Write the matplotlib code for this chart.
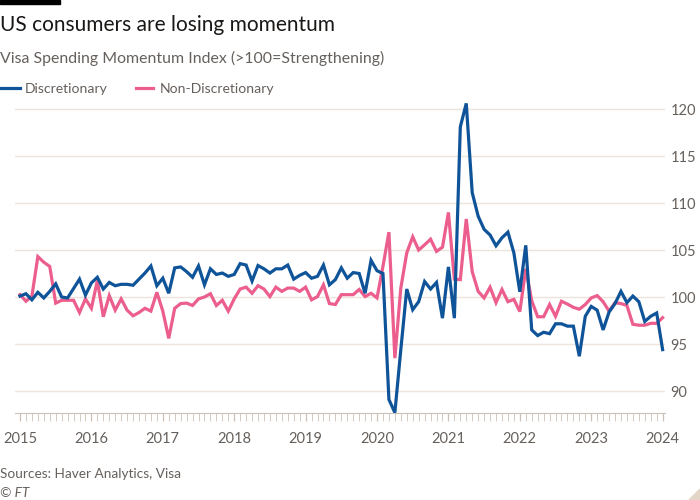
import matplotlib
matplotlib.use("Agg")
import matplotlib.pyplot as plt
from matplotlib.lines import Line2D
from matplotlib.patches import Polygon, Rectangle
import numpy as np

plt.rcParams['font.family'] = ['Lato', 'DejaVu Sans']

# Monthly data, Jan 2015 - Jan 2024
discretionary = [100.1, 100.35, 99.7, 100.5, 99.9, 100.6, 101.4, 100.0, 99.9, 100.9, 101.9, 100.2,
                 101.5, 102.1, 100.85, 101.55, 101.2, 101.35, 101.35, 101.25, 101.9, 102.55, 103.3, 101.2,
                 102.0, 100.4, 103.1, 103.2, 102.7, 102.1, 103.3, 101.3, 103.0, 102.4, 102.55, 102.2,
                 102.4, 103.55, 103.4, 101.7, 103.35, 103.0, 102.55, 103.0, 103.0, 103.4, 101.9, 102.3,
                 102.6, 102.0, 102.2, 103.4, 101.3, 101.85, 103.1, 102.0, 102.6, 102.5, 100.4, 103.9,
                 102.8, 102.5, 89.1, 87.7, 94.4, 100.85, 98.65, 99.5, 101.65, 100.85, 101.55, 97.75,
                 103.2, 97.75, 118.1, 120.6, 111.1, 108.6, 107.2, 106.6, 105.45, 106.3, 106.9, 104.7,
                 100.55, 105.5, 96.5, 95.9, 96.25, 96.1, 97.15, 97.15, 96.9, 96.9, 93.7, 97.95,
                 99.0, 98.6, 96.5, 98.4, 99.3, 100.6, 99.4, 100.1, 99.5, 97.4, 97.95, 98.3,
                 94.4]
non_discretionary = [100.25, 99.55, 100.1, 104.3, 103.7, 103.25, 99.35, 99.65, 99.65, 99.65, 98.35, 99.8,
                     98.8, 101.75, 97.9, 100.15, 98.6, 99.8, 98.6, 98.0, 98.35, 98.8, 98.5, 100.5,
                     98.5, 95.6, 98.8, 99.3, 99.35, 99.1, 99.8, 100.0, 100.35, 99.1, 99.65, 98.5,
                     99.8, 100.85, 101.05, 100.4, 101.2, 100.85, 100.05, 101.05, 100.6, 100.95, 100.95, 100.6,
                     101.05, 99.7, 100.05, 101.3, 99.3, 99.2, 100.25, 100.25, 100.25, 100.8, 100.05, 100.4,
                     99.9, 103.25, 106.9, 93.5, 100.95, 104.7, 106.4, 105.0, 105.55, 106.15, 104.85, 105.3,
                     109.0, 101.9, 101.85, 108.3, 102.7, 100.6, 99.9, 101.05, 99.4, 100.8, 99.5, 99.75,
                     98.45, 103.0, 99.6, 97.9, 97.9, 99.2, 97.95, 99.55, 99.25, 98.9, 98.7, 99.2,
                     99.9, 100.15, 99.5, 98.5, 99.4, 99.3, 99.1, 97.1, 97.0, 97.0, 97.2, 97.2, 97.8]
year_labels = ['2015', '2016', '2017', '2018', '2019', '2020', '2021', '2022', '2023', '2024']
y_ticks = [90, 95, 100, 105, 110, 115, 120]
series_names = ['Discretionary', 'Non-Discretionary']

BLUE = '#0f5499'
PINK = '#eb5e8d'
GREY = '#66605c'
GRID = '#ede4dc'
TICK = '#ccc1b7'

W, H = 700, 500
fig = plt.figure(figsize=(7, 5), dpi=100)
fig.patch.set_facecolor('white')

def fx(px):
    return px / W

def fy(py):
    return 1 - py / H

left, right, top, bottom = 15, 665, 100, 413
ax = fig.add_axes([fx(left), fy(bottom), fx(right - left), (bottom - top) / H])
ax.set_facecolor('white')

months = np.arange(len(discretionary))
ax.plot(months, non_discretionary, color=PINK, lw=2.3, solid_joinstyle='miter', zorder=3)
ax.plot(months, discretionary, color=BLUE, lw=2.3, solid_joinstyle='miter', zorder=4)

ax.set_xlim(-0.84, 108.4)
ax.set_ylim(87.66, 120.96)

for s in ['top', 'left', 'right']:
    ax.spines[s].set_visible(False)
ax.spines['bottom'].set_color(TICK)
ax.spines['bottom'].set_linewidth(0.8)

ax.set_yticks(y_ticks)
ax.yaxis.tick_right()
ax.tick_params(axis='y', length=0, pad=4, labelsize=10.5, labelcolor=GREY)
ax.grid(axis='y', color=GRID, lw=1)

ax.set_xticks(np.arange(0, 109, 12))
ax.set_xticklabels(year_labels)
ax.set_xticks(np.arange(0, 109, 1), minor=True)
ax.tick_params(axis='x', which='major', length=6, width=0.9, color=TICK, pad=8,
               labelsize=10.5, labelcolor=GREY)
ax.tick_params(axis='x', which='minor', length=6, width=0.6, color=TICK)

# top black bar
fig.patches.append(Rectangle((0, fy(4)), fx(60), 4 / H, transform=fig.transFigure,
                             color='black', zorder=5))

fig.text(fx(0), fy(31), 'US consumers are losing momentum', fontsize=15,
         color='#1a1817', va='baseline', ha='left')
fig.text(fx(0), fy(63), 'Visa Spending Momentum Index (>100=Strengthening)', fontsize=11.4,
         color=GREY, va='baseline', ha='left')

# legend
fig.lines.append(Line2D([fx(0), fx(20)], [fy(88), fy(88)], transform=fig.transFigure,
                        color=BLUE, lw=2.3))
fig.text(fx(25), fy(93), series_names[0], fontsize=10.1, color=GREY, va='baseline', ha='left')
fig.lines.append(Line2D([fx(136), fx(153)], [fy(88), fy(88)], transform=fig.transFigure,
                        color=PINK, lw=2.3))
fig.text(fx(160), fy(93), series_names[1], fontsize=10.1, color=GREY, va='baseline', ha='left')

fig.text(fx(0), fy(478), 'Sources: Haver Analytics, Visa', fontsize=9.8, color=GREY,
         va='baseline', ha='left')
fig.text(fx(0), fy(497), '© FT', fontsize=9.8, color=GREY, style='italic',
         va='baseline', ha='left')

# corner mark
fig.patches.append(Polygon([[fx(700), fy(500)], [fx(700), fy(489)], [fx(689), fy(500)]],
                           closed=True, transform=fig.transFigure, color='#e3d6c8'))

fig.savefig('out.png', dpi=100)
